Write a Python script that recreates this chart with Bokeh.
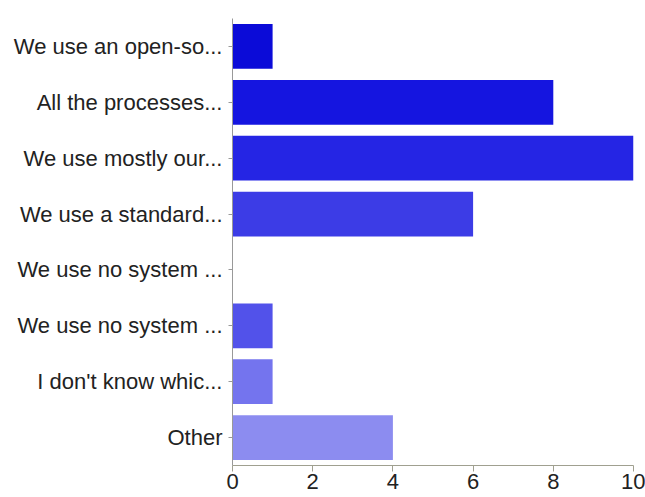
from bokeh.plotting import figure
from bokeh.models import ColumnDataSource, FixedTicker, Range1d
from bokeh.embed import file_html
from bokeh.resources import INLINE

categories = [
    "We use an open-so...",
    "All the processes...",
    "We use mostly our...",
    "We use a standard...",
    "We use no system ...",
    "We use no system ...",
    "I don't know whic...",
    "Other",
]
counts = [1, 8, 10, 6, 0, 1, 1, 4]
colors = ["#0b0bd8", "#1515e0", "#2525e4", "#3c3ce6", "#4848e8", "#5252ea", "#7474ee", "#8c8cf0"]
x_ticks = [0, 2, 4, 6, 8, 10]

n = len(categories)
ypos = [n - i - 0.5 for i in range(n)]

src = ColumnDataSource(dict(y=ypos, right=counts, color=colors, label=categories))

p = figure(width=645, height=497, output_backend="svg", toolbar_location=None,
           x_range=Range1d(0, 10), y_range=Range1d(0, n),
           min_border_left=232, min_border_right=12, min_border_top=18, min_border_bottom=32)
p.hbar(y="y", left=0, right="right", height=0.8, fill_color="color", line_color=None, source=src)

p.outline_line_color = None
p.xgrid.visible = False
p.ygrid.visible = False
p.background_fill_color = "white"

p.xaxis.ticker = FixedTicker(ticks=x_ticks)
p.xaxis.minor_tick_line_color = None
p.xaxis.axis_line_color = "#a0a090"
p.xaxis.major_tick_line_color = "#a0a090"
p.xaxis.major_tick_in = 0
p.xaxis.major_tick_out = 6
p.xaxis.major_label_standoff = 2
p.xaxis.major_label_text_font = "Liberation Sans"
p.xaxis.major_label_text_font_size = "22px"
p.xaxis.major_label_text_color = "#222222"

p.yaxis.ticker = FixedTicker(ticks=ypos)
p.yaxis.major_label_overrides = {y: lab for y, lab in zip(ypos, categories)}
p.yaxis.minor_tick_line_color = None
p.yaxis.axis_line_color = "#999999"
p.yaxis.major_tick_line_color = "#999999"
p.yaxis.major_tick_in = 0
p.yaxis.major_tick_out = 4
p.yaxis.major_label_standoff = 6
p.yaxis.major_label_text_font = "Liberation Sans"
p.yaxis.major_label_text_font_size = "22px"
p.yaxis.major_label_text_color = "#222222"

open("out.html", "w").write(file_html(p, INLINE))
